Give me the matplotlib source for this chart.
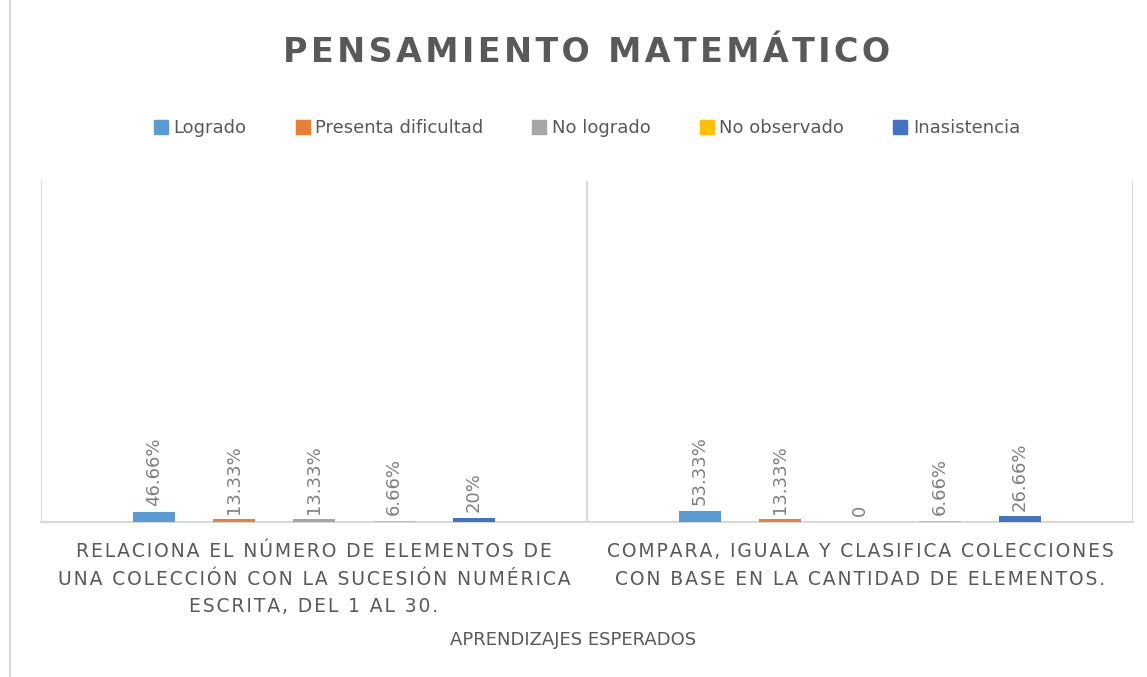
import numpy as np
import matplotlib
matplotlib.use("Agg")
import matplotlib.pyplot as plt
from matplotlib.lines import Line2D

plt.rcParams['font.family'] = ['DejaVu Sans']

categorias = [
    "RELACIONA EL NÚMERO DE ELEMENTOS DE\nUNA COLECCIÓN CON LA SUCESIÓN NUMÉRICA\nESCRITA, DEL 1 AL 30.",
    "COMPARA, IGUALA Y CLASIFICA COLECCIONES\nCON BASE EN LA CANTIDAD DE ELEMENTOS.",
]
series = ["Logrado", "Presenta dificultad", "No logrado", "No observado", "Inasistencia"]
logrado = [46.66, 53.33]
presenta_dificultad = [13.33, 13.33]
no_logrado = [13.33, 0]
no_observado = [6.66, 6.66]
inasistencia = [20, 26.66]

valores = [logrado, presenta_dificultad, no_logrado, no_observado, inasistencia]
colores = ["#5B9BD5", "#ED7D31", "#A5A5A5", "#FFC000", "#4472C4"]

texto = "#595959"
grid = "#D9D9D9"


def espaciado(s, sep="\u200a"):
    return "\n".join(sep.join(linea) for linea in s.split("\n"))


fig = plt.figure(figsize=(11.47, 6.77), dpi=100)
ax = fig.add_axes([0.0357, 0.229, 0.9521, 0.5036])

x = np.arange(len(categorias))
paso = 0.1465
ancho = 0.077
for i, (nombre, vals, col) in enumerate(zip(series, valores, colores)):
    pos = x + (i - 2) * paso
    bars = ax.bar(pos, vals, width=ancho, color=col, label=nombre, zorder=3)
    for b, v in zip(bars, vals):
        etiqueta = f"{v:g}%" if v else "0"
        ax.annotate(etiqueta, (b.get_x() + b.get_width() / 2, b.get_height()),
                    xytext=(0, 4), textcoords="offset points",
                    rotation=90, ha="center", va="bottom",
                    fontsize=13, color="#7F7F7F")

ax.set_xlim(-0.5, len(categorias) - 0.5)
ax.set_ylim(0, 1600)
ax.set_yticks([])
ax.set_xticks([])
for s in ["top", "right", "left"]:
    ax.spines[s].set_visible(False)
ax.spines["bottom"].set_color(grid)
ax.spines["bottom"].set_linewidth(1.5)
for b in np.arange(-0.5, len(categorias), 1.0):
    ax.axvline(b, color=grid, linewidth=1.5, zorder=1)

# etiquetas de categoria
for xi, cat in zip(x, categorias):
    ax.text(xi, -0.06, espaciado(cat), transform=ax.get_xaxis_transform(),
            ha="center", va="top", fontsize=13.5, color=texto, linespacing=1.55)

fig.text(0.5, 1 - 640 / 677, "APRENDIZAJES ESPERADOS", ha="center", va="center",
         fontsize=13, color=texto)

fig.text(0.511, 1 - 52 / 677, espaciado("PENSAMIENTO MATEMÁTICO", "\u200a"),
         ha="center", va="center", fontsize=24, fontweight="bold", color=texto)

handles = [Line2D([], [], marker="s", linestyle="none", markersize=10,
                  markerfacecolor=c, markeredgecolor=c) for c in colores]
fig.legend(handles, series, loc="center", bbox_to_anchor=(0.511, 1 - 128 / 677),
           ncol=5, frameon=False, fontsize=13, labelcolor=texto,
           handletextpad=0.2, columnspacing=2.6, handlelength=1.0)

# borde del area del grafico
fig.add_artist(Line2D([10 / 1147, 10 / 1147], [0, 1], color=grid, linewidth=1.5))

fig.savefig("out.png", dpi=100)
